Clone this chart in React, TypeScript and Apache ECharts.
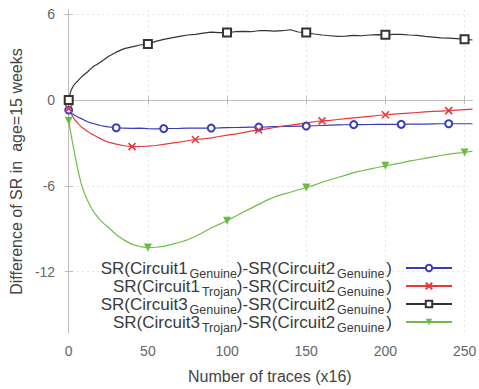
import React, { useEffect, useRef } from "react";
import * as echarts from "echarts";

const traces = [0, 1, 2, 3, 4, 5, 6, 8, 10, 12, 14, 16, 18, 20, 22,
  25, 30, 35, 40, 45, 50, 55, 60, 65, 70, 75, 80, 85, 90, 95, 100, 105, 110, 115, 120,
  125, 130, 135, 140, 145, 150, 155, 160, 165, 170, 175, 180, 185, 190, 195, 200,
  205, 210, 215, 220, 225, 230, 235, 240, 245, 250, 255];

const c1Genuine = [-0.7, -0.85, -0.95, -1.02, -1.08, -1.13, -1.2, -1.3, -1.42, -1.52, -1.6, -1.66, -1.72, -1.78, -1.83,
  -1.88, -1.94, -1.96, -1.98, -1.97, -2.0, -2.02, -2.0, -1.99, -1.98, -1.96, -1.97, -1.96, -1.96, -1.95, -1.93, -1.92, -1.91, -1.9, -1.89,
  -1.88, -1.86, -1.85, -1.84, -1.83, -1.82, -1.8, -1.78, -1.76, -1.74, -1.73, -1.72, -1.72, -1.71, -1.7, -1.7,
  -1.7, -1.7, -1.69, -1.68, -1.68, -1.67, -1.66, -1.66, -1.66, -1.66, -1.66];

const c1Trojan = [-0.6, -0.85, -1.05, -1.25, -1.4, -1.52, -1.65, -1.88, -2.05, -2.2, -2.35, -2.46, -2.58, -2.7, -2.82,
  -2.95, -3.08, -3.2, -3.26, -3.25, -3.22, -3.18, -3.1, -3.02, -2.95, -2.85, -2.76, -2.72, -2.65, -2.55, -2.45, -2.38, -2.28, -2.18, -2.1,
  -2.02, -1.92, -1.83, -1.76, -1.68, -1.6, -1.52, -1.46, -1.42, -1.36, -1.3, -1.25, -1.2, -1.14, -1.08, -1.03,
  -0.99, -0.95, -0.91, -0.87, -0.83, -0.8, -0.77, -0.74, -0.7, -0.67, -0.64];

const c3Genuine = [0.0, 0.5, 0.8, 1.0, 1.15, 1.25, 1.38, 1.6, 1.8, 1.98, 2.2, 2.38, 2.5, 2.65, 2.8,
  3.05, 3.35, 3.6, 3.72, 3.85, 3.92, 4.1, 4.25, 4.35, 4.45, 4.55, 4.6, 4.68, 4.75, 4.72, 4.72, 4.78, 4.8, 4.78, 4.85,
  4.86, 4.82, 4.85, 4.92, 4.76, 4.72, 4.62, 4.55, 4.5, 4.45, 4.47, 4.52, 4.5, 4.55, 4.58, 4.56,
  4.6, 4.6, 4.55, 4.52, 4.45, 4.4, 4.35, 4.33, 4.3, 4.26, 4.2];

const c3Trojan = [-1.45, -2.1, -2.75, -3.3, -3.9, -4.45, -5.0, -5.9, -6.55, -7.05, -7.5, -7.85, -8.15, -8.4, -8.63,
  -8.9, -9.42, -9.8, -10.1, -10.25, -10.32, -10.3, -10.24, -10.1, -9.95, -9.78, -9.55, -9.25, -8.95, -8.7, -8.45, -8.15, -7.85, -7.58, -7.3,
  -7.02, -6.78, -6.6, -6.45, -6.28, -6.12, -5.95, -5.75, -5.58, -5.42, -5.25, -5.08, -4.95, -4.83, -4.72, -4.6,
  -4.5, -4.4, -4.28, -4.18, -4.08, -3.98, -3.88, -3.78, -3.72, -3.67, -3.58];

const marksBlue = [0, 30, 60, 90, 120, 150, 180, 210, 240];
const marksRed = [0, 40, 80, 120, 160, 200, 240];
const marksBlack = [0, 50, 100, 150, 200, 250];
const marksGreen = [0, 50, 100, 150, 200, 250];

const xTicks = [0, 50, 100, 150, 200, 250];
const yTicks = [-12, -6, 0, 6];

const seriesNames = [
  "SR(Circuit1Genuine)-SR(Circuit2Genuine)",
  "SR(Circuit1Trojan)-SR(Circuit2Genuine)",
  "SR(Circuit3Genuine)-SR(Circuit2Genuine)",
  "SR(Circuit3Trojan)-SR(Circuit2Genuine)",
];
const legendCircuit = ["1", "1", "3", "3"];
const legendSub = ["Genuine", "Trojan", "Genuine", "Trojan"];

const FONT = "'Liberation Sans', Arial, sans-serif";

function build(vals: number[], marks: number[]) {
  return traces.map((x, i) =>
    marks.includes(x) ? { value: [x, vals[i]] } : { value: [x, vals[i]], symbol: "none" }
  );
}

export default function App() {
  const ref = useRef<HTMLDivElement>(null);
  useEffect(() => {
    if (!ref.current) return;
    const chart = echarts.init(ref.current, null, { renderer: "svg" });
    const gridLine = { show: true, lineStyle: { color: "#e6e6e6", type: [2, 3] as any, width: 1 } };
    const axisLine = { show: true, lineStyle: { color: "#bdbdbd", width: 1 } };
    const tickStyle = { color: "#bdbdbd", width: 1 };
    chart.setOption({
      animation: false,
      backgroundColor: "#ffffff",
      grid: { left: 55, right: 6, top: 10, bottom: 52, containLabel: false },
      xAxis: [
        {
          type: "value", min: -1, max: 255,
          axisLine,
          axisTick: { show: true, inside: true, length: 4, customValues: xTicks, lineStyle: tickStyle },
          axisLabel: { customValues: xTicks, color: "#666", fontSize: 14, margin: 11, fontFamily: FONT },
          splitLine: gridLine,
          name: "Number of traces (x16)", nameLocation: "middle", nameGap: 35,
          nameTextStyle: { color: "#444", fontSize: 16, fontFamily: FONT },
        },
        {
          type: "value", min: -1, max: 255, position: "top",
          axisLine,
          axisTick: { show: true, inside: true, length: 4, customValues: xTicks, lineStyle: tickStyle },
          axisLabel: { show: false },
          splitLine: { show: false },
        },
      ],
      yAxis: [
        {
          type: "value", min: -16.3, max: 6.3,
          axisLine,
          axisTick: { show: true, inside: true, length: 4, customValues: yTicks, lineStyle: tickStyle },
          axisLabel: { customValues: yTicks, color: "#666", fontSize: 14, margin: 12, fontFamily: FONT },
          splitLine: gridLine,
          name: "Difference of SR in  age=15 weeks", nameLocation: "middle", nameGap: 32,
          nameTextStyle: { color: "#444", fontSize: 16, fontFamily: FONT },
        },
        {
          type: "value", min: -16.3, max: 6.3, position: "right",
          axisLine,
          axisTick: { show: true, inside: true, length: 4, customValues: yTicks, lineStyle: tickStyle },
          axisLabel: { show: false },
          splitLine: { show: false },
        },
      ],
      legend: {
        orient: "vertical",
        right: 26,
        top: 260,
        padding: 0,
        align: "right",
        itemWidth: 46,
        itemHeight: 8,
        itemGap: -2,
        data: seriesNames,
        formatter: (name: string) => {
          const i = seriesNames.indexOf(name);
          return `{n|SR(Circuit${legendCircuit[i]}}{s|${legendSub[i]}}{n|)-SR(Circuit2}{s|Genuine}{e|)}`;
        },
        textStyle: {
          rich: {
            n: { fontSize: 17, lineHeight: 16, color: "#3a3a3a", fontFamily: FONT, verticalAlign: "top" },
            e: { fontSize: 17, lineHeight: 16, color: "#3a3a3a", fontFamily: FONT, verticalAlign: "top", padding: [0, 9, 0, 2] },
            s: { fontSize: 12.5, lineHeight: 12, color: "#3a3a3a", fontFamily: FONT, verticalAlign: "top", padding: [7, 0, 0, 2] },
          },
        },
      },
      series: [
        {
          name: seriesNames[0], type: "line", data: build(c1Genuine, marksBlue),
          symbol: "emptyCircle", symbolSize: 7, showAllSymbol: true,
          lineStyle: { color: "#3a3db5", width: 1.2 },
          itemStyle: { color: "#3a3db5", borderWidth: 1.4 },
          emphasis: { disabled: true },
        },
        {
          name: seriesNames[1], type: "line", data: build(c1Trojan, marksRed),
          symbol: "path://M0,0L10,10M10,0L0,10", symbolSize: 7, showAllSymbol: true,
          lineStyle: { color: "#e8383d", width: 1.2 },
          itemStyle: { color: "#e8383d", borderColor: "#e8383d", borderWidth: 1.6 },
          emphasis: { disabled: true },
        },
        {
          name: seriesNames[2], type: "line", data: build(c3Genuine, marksBlack),
          symbol: "emptyRect", symbolSize: 8, showAllSymbol: true,
          lineStyle: { color: "#333333", width: 1.2 },
          itemStyle: { color: "#333333", borderWidth: 1.4 },
          emphasis: { disabled: true },
        },
        {
          name: seriesNames[3], type: "line", data: build(c3Trojan, marksGreen),
          symbol: "triangle", symbolRotate: 180, symbolSize: 8, showAllSymbol: true,
          lineStyle: { color: "#6dbd45", width: 1.2 },
          itemStyle: { color: "#6dbd45" },
          emphasis: { disabled: true },
        },
      ],
    });
    return () => chart.dispose();
  }, []);
  return (
    <div
      ref={ref}
      style={{ position: "absolute", left: 0, top: 0, width: 479, height: 389, background: "#fff" }}
    />
  );
}
